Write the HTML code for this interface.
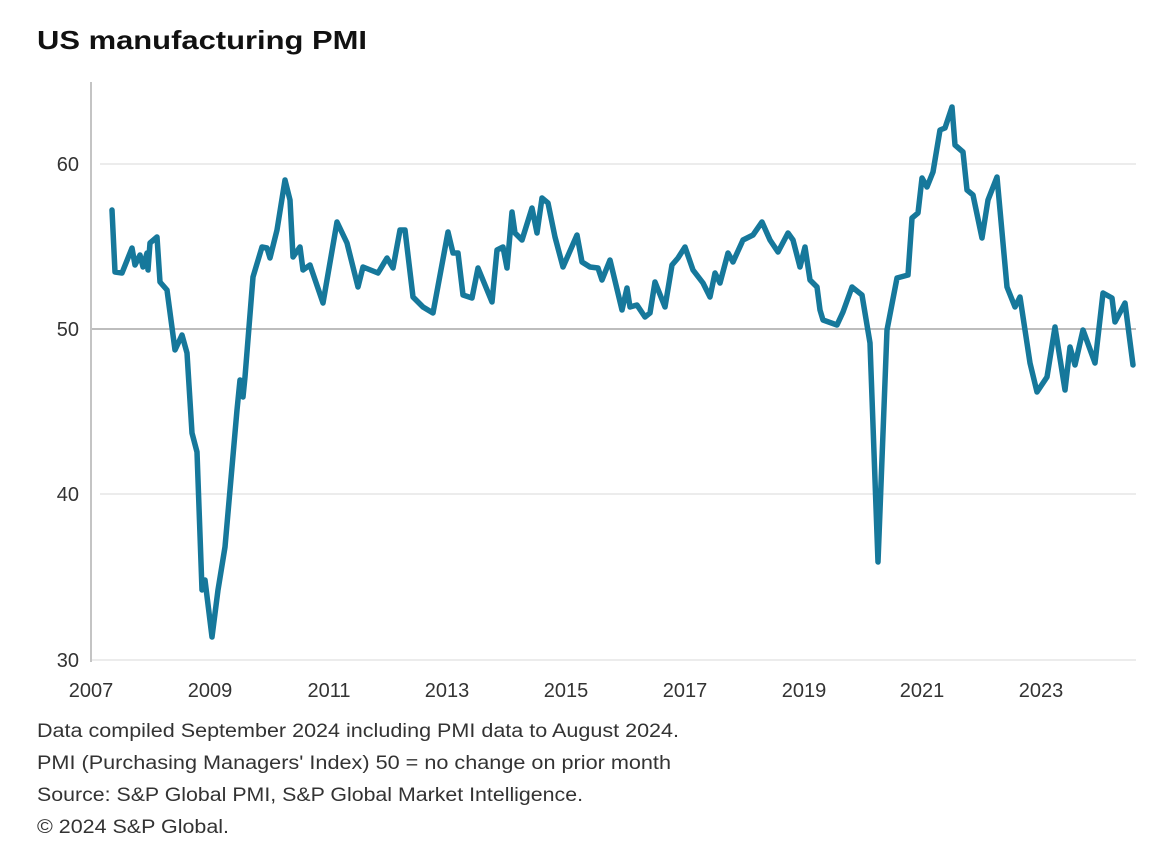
<!DOCTYPE html>
<html><head><meta charset="utf-8"><style>
html,body{margin:0;padding:0;background:#fff;}
svg{display:block;font-family:"Liberation Sans",Arial,sans-serif;}
</style></head><body>
<svg width="1176" height="866" viewBox="0 0 1176 866" xmlns="http://www.w3.org/2000/svg">
<rect width="1176" height="866" fill="#fff"/>
<text x="37" y="49" font-size="26" font-weight="bold" fill="#111" textLength="330" lengthAdjust="spacingAndGlyphs">US manufacturing PMI</text>
<g stroke="#e6e6e6" stroke-width="1.5">
<line x1="100" y1="164" x2="1136" y2="164"/>
<line x1="100" y1="494" x2="1136" y2="494"/>
<line x1="90" y1="660" x2="1136" y2="660"/>
</g>
<line x1="91" y1="329" x2="1136" y2="329" stroke="#bdbdbd" stroke-width="2"/>
<line x1="91" y1="82" x2="91" y2="662" stroke="#c4c4c4" stroke-width="2"/>
<g font-size="20" fill="#333" text-anchor="end">
<text x="79" y="171">60</text>
<text x="79" y="336">50</text>
<text x="79" y="501">40</text>
<text x="79" y="667">30</text>
</g>
<g font-size="20" fill="#333" text-anchor="middle">
<text x="91" y="697">2007</text>
<text x="210" y="697">2009</text>
<text x="329" y="697">2011</text>
<text x="447" y="697">2013</text>
<text x="566" y="697">2015</text>
<text x="685" y="697">2017</text>
<text x="804" y="697">2019</text>
<text x="922" y="697">2021</text>
<text x="1041" y="697">2023</text>
</g>
<polyline fill="none" stroke="#16789b" stroke-width="5.5" stroke-linejoin="round" stroke-linecap="round" points="
112,210 115,272 122,273 132,248 135,265 140,255 143,267 147,253 148,270 150,243 157,237 160,282 167,290 175,350 182,335 187,353 192,433 197,452 202,590 205,580 212,637 218,590 225,547 237,410 240,380 243,397 245,377 253,277 262,247 267,248 270,258 277,230 285,180 290,200 293,257 300,247 303,270 310,265 323,303 337,222 347,243 358,287 363,267 378,273 387,258 393,268 400,230 405,230 413,297 423,307 433,313 448,232 453,253 458,253 463,295 472,298 478,268 492,302 497,250 503,247 507,268 512,212 515,233 522,240 532,208 537,233 542,198 548,203 555,237 563,267 577,235 582,262 590,267 598,268 602,280 610,260 622,310 627,288 630,307 637,305 645,317 650,313 655,282 665,307 672,265 678,258 685,247 693,270 703,283 710,297 715,273 720,283 728,253 733,262 743,240 753,235 762,222 770,240 778,252 788,233 793,240 800,267 805,247 810,280 817,287 820,310 823,320 837,325 843,312 852,287 862,295 870,343 878,562 887,330 897,278 908,275 912,218 918,213 922,178 927,187 933,172 940,130 945,128 952,107 955,145 963,152 967,190 973,195 982,238 988,200 997,177 1007,287 1015,307 1020,297 1030,363 1037,392 1047,377 1055,327 1065,390 1070,347 1075,365 1083,330 1095,363 1103,293 1112,298 1115,322 1125,303 1133,365"/>
<g font-size="19" fill="#333">
<text x="37" y="737" textLength="642" lengthAdjust="spacingAndGlyphs">Data compiled September 2024 including PMI data to August 2024.</text>
<text x="37" y="769" textLength="634" lengthAdjust="spacingAndGlyphs">PMI (Purchasing Managers' Index) 50 = no change on prior month</text>
<text x="37" y="801" textLength="546" lengthAdjust="spacingAndGlyphs">Source: S&amp;P Global PMI, S&amp;P Global Market Intelligence.</text>
<text x="37" y="833" textLength="192" lengthAdjust="spacingAndGlyphs">© 2024 S&amp;P Global.</text>
</g>
</svg>
</body></html>
